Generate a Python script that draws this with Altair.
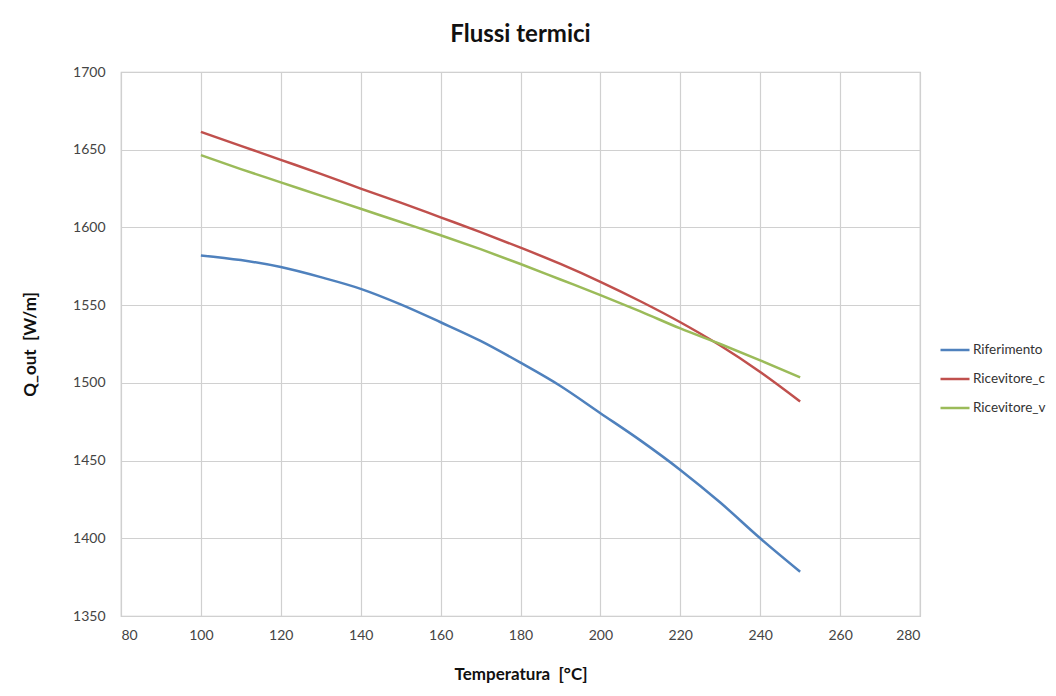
import altair as alt
import pandas as pd

temperature = [100, 110, 120, 130, 140, 150, 160, 170, 180, 190, 200, 210, 220, 230, 240, 250]
riferimento = [1582, 1579, 1574.5, 1568, 1560.5, 1550.5, 1539, 1527, 1513, 1498, 1480.5, 1463, 1444, 1423, 1400, 1378.5]
ricevitore_c = [1661.5, 1652.5, 1643.5, 1634.5, 1625, 1616, 1606.5, 1597, 1587, 1576.5, 1565, 1552.5, 1539, 1524, 1507, 1488]
ricevitore_v = [1646.5, 1637.5, 1629, 1620.5, 1612, 1603.5, 1595, 1586, 1576.5, 1566.5, 1556.5, 1546, 1535, 1525, 1514.5, 1503.5]

series_names = ["Riferimento", "Ricevitore_c", "Ricevitore_v"]
series_colors = ["#4F81BD", "#C0504D", "#9BBB59"]

rows = []
for name, vals in zip(series_names, [riferimento, ricevitore_c, ricevitore_v]):
    for t, v in zip(temperature, vals):
        rows.append({"T": t, "Q": v, "serie": name})
df = pd.DataFrame(rows)

FONT = "Lato"

chart = alt.Chart(df).mark_line(strokeWidth=2.5, interpolate="monotone").encode(
    x=alt.X("T:Q", scale=alt.Scale(domain=[80, 280], nice=False),
            axis=alt.Axis(values=list(range(80, 281, 20)), format="d",
                          title="Temperatura\u00a0\u00a0[°C]", titlePadding=24)),
    y=alt.Y("Q:Q", scale=alt.Scale(domain=[1350, 1700], nice=False, zero=False),
            axis=alt.Axis(values=list(range(1350, 1701, 50)), format="d",
                          title="Q_out\u00a0\u00a0[W/m]", titlePadding=33)),
    color=alt.Color("serie:N", scale=alt.Scale(domain=series_names, range=series_colors),
                    sort=series_names,
                    legend=alt.Legend(title=None, orient="none", legendX=818, legendY=262,
                                      symbolType="stroke", symbolSize=841, symbolStrokeWidth=2.5,
                                      labelFont=FONT, labelFontSize=13.5, labelColor="#333333",
                                      labelOffset=2, rowPadding=6, labelLimit=200)),
).properties(
    width=799, height=544,
    title=alt.TitleParams("Flussi termici", font=FONT, fontSize=24, fontWeight="bold",
                          color="#111111", anchor="middle", offset=18),
    autosize=alt.AutoSizeParams(type="none"),
    padding={"left": 113, "top": 64, "right": 126, "bottom": 70},
).configure_axis(
    labelFont=FONT, labelFontSize=14, labelColor="#444444",
    titleFont=FONT, titleFontSize=17, titleFontWeight="bold", titleColor="#111111",
    grid=True, gridColor="#d0d0d0", gridWidth=1.2,
    domain=False, ticks=False, labelPadding=12,
).configure_axisY(
    labelPadding=16,
).configure_view(
    stroke="#c8c8c8", strokeWidth=1.2,
)

chart.save("out.html", embed_options={"renderer": "svg", "actions": False})
